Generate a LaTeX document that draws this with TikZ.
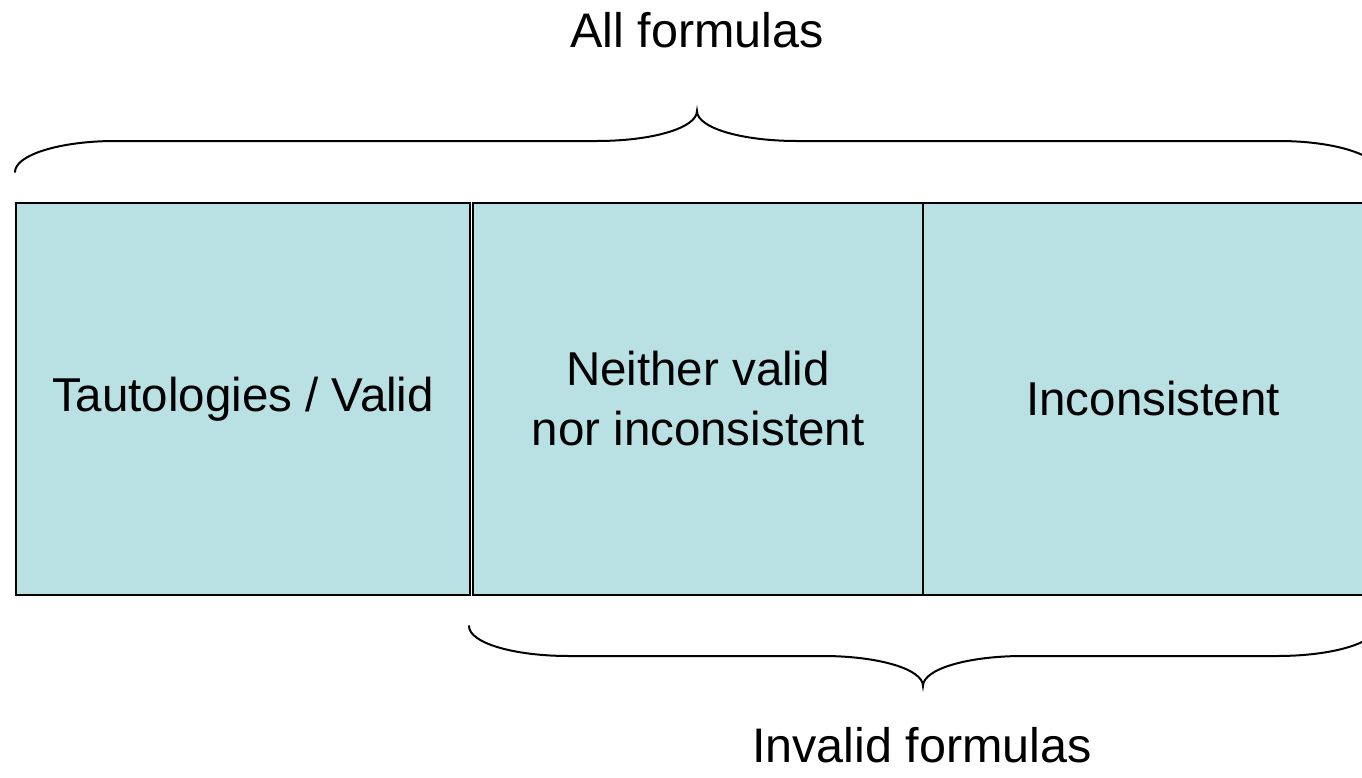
\documentclass[tikz,border=0pt]{standalone}
\usepackage{fontspec}
\setmainfont{Liberation Sans}
\definecolor{boxfill}{RGB}{185,224,227}
\begin{document}
\begin{tikzpicture}[x=1pt,y=-1pt,
  box/.style={draw=black,line width=2pt,fill=boxfill,anchor=north west,inner sep=0pt,align=center,minimum height=392pt,font=\fontsize{47.5}{60}\selectfont},
  lbl/.style={font=\fontsize{48.5}{58}\selectfont,inner sep=0pt},
  brace/.style={line width=2pt,line cap=round}]
\useasboundingbox (0,0) rectangle (1362,777);
\clip (0,0) rectangle (1362,777);
\node[box, minimum width=454pt] (taut) at (15,202) {Tautologies / Valid};
\node[box, minimum width=450pt] (neither) at (472,202) {Neither valid\\nor inconsistent};
\node[box, minimum width=460pt] (incons) at (922,202) {Inconsistent};
\draw[brace] (15,172) .. controls (15,155) and (60,141) .. (115,141) -- (597,141)
  .. controls (652,141) and (697,128) .. (697,111)
  .. controls (697,128) and (742,141) .. (797,141) -- (1279,141)
  .. controls (1334,141) and (1379,155) .. (1379,172);
\draw[brace] (469,626) .. controls (469,643) and (514,656) .. (569,656) -- (823,656)
  .. controls (878,656) and (923,669) .. (923,686)
  .. controls (923,669) and (968,656) .. (1023,656) -- (1277,656)
  .. controls (1332,656) and (1377,643) .. (1377,626);
\node[lbl] (all) at (697,30) {All formulas};
\node[lbl] (invalid) at (922,745) {Invalid formulas};
\end{tikzpicture}
\end{document}
